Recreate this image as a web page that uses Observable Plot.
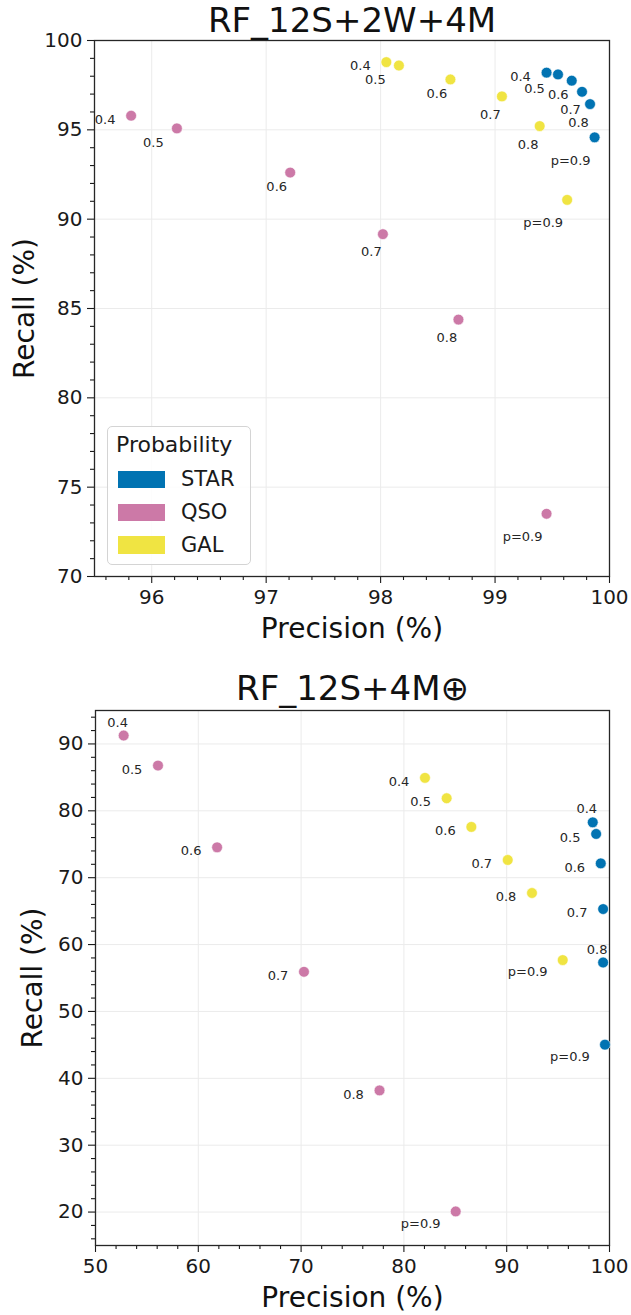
<!DOCTYPE html>
<html>
<head>
<meta charset="utf-8">
<script src="https://cdn.jsdelivr.net/npm/d3@7"></script>
<script src="https://cdn.jsdelivr.net/npm/@observablehq/plot@0.6"></script>
<style>
  body { margin: 0; background: #fff; font-family: "DejaVu Sans", sans-serif; }
  #fig { position: relative; width: 631px; height: 1315px; overflow: hidden; }
  .panel { position: absolute; left: 0; }
  .legend { position: absolute; box-sizing: border-box; border: 1px solid #d4d4d4; border-radius: 5px; background: rgba(255,255,255,0.85); }
  .legend .ttl, .legend .lab { position: absolute; white-space: nowrap; color: #1a1a1a; }
  .legend .sw { position: absolute; }
</style>
</head>
<body>
<div id="fig"></div>
<script>
// Probability thresholds and their annotation text
const levels = ["0.4", "0.5", "0.6", "0.7", "0.8", "p=0.9"];
const classes = ["STAR", "QSO", "GAL"];
const classColors = ["#0173B2", "#CC79A7", "#F0E442"];

// RF_12S+2W+4M : precision / recall (%) per threshold
const a_star_precision = [99.45, 99.55, 99.67, 99.76, 99.83, 99.87];
const a_star_recall    = [98.20, 98.10, 97.75, 97.13, 96.44, 94.58];
const a_qso_precision  = [95.82, 96.22, 97.21, 98.02, 98.68, 99.45];
const a_qso_recall     = [95.79, 95.08, 92.61, 89.16, 84.38, 73.51];
const a_gal_precision  = [98.05, 98.16, 98.61, 99.06, 99.39, 99.63];
const a_gal_recall     = [98.79, 98.60, 97.82, 96.87, 95.21, 91.08];

// RF_12S+4M⊕ : precision / recall (%) per threshold
const b_star_precision = [98.37, 98.70, 99.15, 99.38, 99.38, 99.56];
const b_star_recall    = [78.28, 76.54, 72.14, 65.31, 57.32, 45.03];
const b_qso_precision  = [52.74, 56.08, 61.83, 70.28, 77.63, 85.04];
const b_qso_recall     = [91.26, 86.77, 74.54, 55.93, 38.19, 20.09];
const b_gal_precision  = [82.05, 84.16, 86.56, 90.10, 92.46, 95.45];
const b_gal_recall     = [84.93, 81.88, 77.59, 72.65, 67.71, 57.68];

// Axis ticks
const a_xTicks = [96, 97, 98, 99, 100];
const a_yTicks = [70, 75, 80, 85, 90, 95, 100];
const b_xTicks = [50, 60, 70, 80, 90, 100];
const b_yTicks = [20, 30, 40, 50, 60, 70, 80, 90];

// ---- layout helpers (pixel offsets of the threshold annotations) ----
const offsetsA = [[-26, 4], [-23.5, 14.5], [-13.5, 14], [-11.5, 18], [-11.5, 18.5], [-24, 23]];
const offsetsB = {left: [-26, 4], above: [-6, -13], below: [-35, 12]};
const placeB = {
  STAR: ["above", "left", "left", "left", "above", "below"],
  QSO:  ["above", "left", "left", "left", "left", "below"],
  GAL:  ["left", "left", "left", "left", "left", "below"]
};

function minorTicks(lo, hi, step, majors) {
  const out = [];
  const n = Math.round((hi - lo) / step);
  for (let k = 0; k <= n; k++) {
    const v = +(lo + k * step).toFixed(6);
    if (!majors.some(m => Math.abs(m - v) < 1e-6)) out.push(v);
  }
  return out;
}

function buildRows(series, offsetFor) {
  const rows = [];
  for (const {cls, precision, recall} of series) {
    precision.forEach((p, i) => rows.push({cls, level: levels[i], precision: p, recall: recall[i], off: offsetFor(cls, i)}));
  }
  return rows;
}

function labelMarks(rows) {
  return d3.groups(rows, d => d.off.join(",")).map(([, g]) =>
    Plot.text(g, {
      x: "precision", y: "recall", text: "level",
      dx: g[0].off[0], dy: g[0].off[1],
      fontSize: 13, fill: "#262626", textAnchor: "middle", lineAnchor: "middle"
    })
  );
}

function panel(cfg) {
  const {rows, title, titleDy, height, margin, xDomain, yDomain, xMajor, xMinor, yMajor, yMinor, yLabelDx} = cfg;
  const axisStyle = {label: null, strokeWidth: 1.1};
  return Plot.plot({
    width: 631, height,
    marginTop: margin[0], marginRight: margin[1], marginBottom: margin[2], marginLeft: margin[3],
    style: {fontFamily: "DejaVu Sans", background: "white", overflow: "visible", color: "#1a1a1a"},
    x: {domain: xDomain},
    y: {domain: yDomain},
    color: {domain: classes, range: classColors},
    marks: [
      Plot.gridX(xMajor, {stroke: "#ebebeb", strokeOpacity: 1, strokeWidth: 1}),
      Plot.gridY(yMajor, {stroke: "#ebebeb", strokeOpacity: 1, strokeWidth: 1}),
      Plot.axisX(xMinor, {...axisStyle, tickSize: 4, tickFormat: () => ""}),
      Plot.axisY(yMinor, {...axisStyle, tickSize: 4, tickFormat: () => ""}),
      Plot.axisX(xMajor, {...axisStyle, tickSize: 7, tickPadding: 6, fontSize: 20, tickFormat: d => String(d)}),
      Plot.axisY(yMajor, {...axisStyle, tickSize: 7, tickPadding: 5, fontSize: 20, tickFormat: d => String(d)}),
      Plot.frame({stroke: "#262626", strokeWidth: 1.3}),
      Plot.dot(rows, {x: "precision", y: "recall", fill: "cls", r: 5.4, stroke: "white", strokeWidth: 0.6}),
      ...labelMarks(rows),
      Plot.text([title], {frameAnchor: "top", dy: titleDy, fontSize: 34, fill: "#111", textAnchor: "middle", lineAnchor: "middle"}),
      Plot.text(["Precision (%)"], {frameAnchor: "bottom", dy: 53, fontSize: 28, fill: "#111", textAnchor: "middle", lineAnchor: "middle"}),
      Plot.text(["Recall (%)"], {frameAnchor: "left", rotate: -90, dx: yLabelDx, fontSize: 28, fill: "#111", textAnchor: "middle", lineAnchor: "middle"})
    ]
  });
}

const rowsA = buildRows([
  {cls: "STAR", precision: a_star_precision, recall: a_star_recall},
  {cls: "QSO",  precision: a_qso_precision,  recall: a_qso_recall},
  {cls: "GAL",  precision: a_gal_precision,  recall: a_gal_recall}
], (cls, i) => offsetsA[i]);

const rowsB = buildRows([
  {cls: "STAR", precision: b_star_precision, recall: b_star_recall},
  {cls: "QSO",  precision: b_qso_precision,  recall: b_qso_recall},
  {cls: "GAL",  precision: b_gal_precision,  recall: b_gal_recall}
], (cls, i) => offsetsB[placeB[cls][i]]);

const fig = document.getElementById("fig");

const chartA = panel({
  rows: rowsA, title: "RF_12S+2W+4M", titleDy: -19.2, height: 655, margin: [40, 22, 79, 94],
  xDomain: [95.5, 100], yDomain: [70, 100],
  xMajor: a_xTicks, xMinor: minorTicks(95.6, 99.8, 0.2, a_xTicks),
  yMajor: a_yTicks, yMinor: minorTicks(70, 100, 1, a_yTicks),
  yLabelDx: -69
});
chartA.classList.add("panel");
chartA.style.top = "0px";
fig.appendChild(chartA);

const chartB = panel({
  rows: rowsB, title: "RF_12S+4M⊕", titleDy: -21.2, height: 660, margin: [55, 22, 70, 95],
  xDomain: [50, 100], yDomain: [15, 95],
  xMajor: b_xTicks, xMinor: minorTicks(52, 98, 2, b_xTicks),
  yMajor: b_yTicks, yMinor: minorTicks(16, 94, 2, b_yTicks),
  yLabelDx: -62.7
});
chartB.classList.add("panel");
chartB.style.top = "655px";
fig.appendChild(chartB);

// Legend for the class colours, placed inside the first panel
const legend = document.createElement("div");
legend.className = "legend";
Object.assign(legend.style, {left: "106.5px", top: "426px", width: "144px", height: "139px"});
const ttl = document.createElement("div");
ttl.className = "ttl";
ttl.textContent = "Probability";
Object.assign(ttl.style, {left: "8.5px", top: "6.5px", fontSize: "22px", lineHeight: "22px"});
legend.appendChild(ttl);
classes.forEach((c, i) => {
  const cy = 52.5 + i * 32.8;
  const sw = document.createElement("div");
  sw.className = "sw";
  Object.assign(sw.style, {left: "10.5px", top: (cy - 8.7) + "px", width: "46.5px", height: "17.4px", background: classColors[i]});
  const lab = document.createElement("div");
  lab.className = "lab";
  lab.textContent = c;
  Object.assign(lab.style, {left: "73.5px", top: (cy - 10.5) + "px", fontSize: "21px", lineHeight: "21px"});
  legend.appendChild(sw);
  legend.appendChild(lab);
});
fig.appendChild(legend);
</script>
</body>
</html>
